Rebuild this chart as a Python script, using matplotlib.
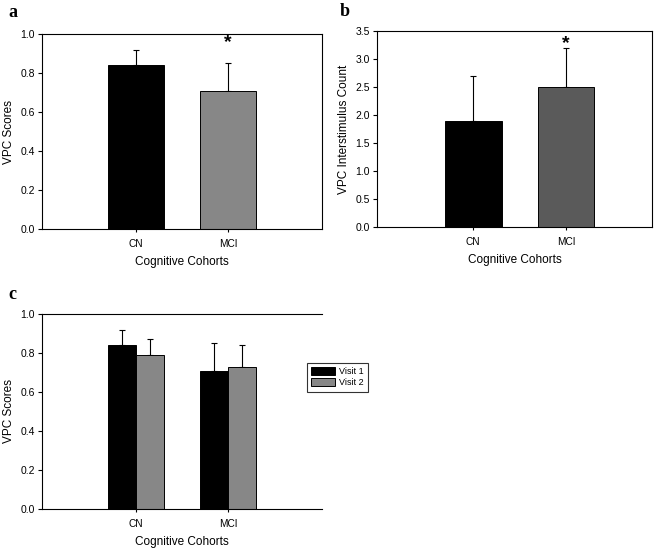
import matplotlib.pyplot as plt
import numpy as np

cohorts = ['CN', 'MCI']

# panel a: VPC scores
vpc_mean = [0.84, 0.71]
vpc_err = [0.08, 0.14]

# panel b: intersimulus count
isi_mean = [1.9, 2.5]
isi_err = [0.8, 0.7]

# panel c: visits
visit1_mean = [0.84, 0.71]
visit1_err = [0.08, 0.14]
visit2_mean = [0.79, 0.73]
visit2_err = [0.08, 0.11]

plt.rcParams['font.family'] = ['Liberation Sans', 'DejaVu Sans']


def style_axes(ax, ylim, yticks, fmt):
    ax.set_xlim(-1.02, 2.02)
    ax.set_ylim(*ylim)
    ax.set_yticks(yticks)
    ax.set_yticklabels([fmt.format(v) for v in yticks], fontsize=7.5)
    ax.set_xticks([0, 1])
    ax.set_xticklabels(cohorts, fontsize=7.3)
    ax.tick_params(axis='x', length=2, width=0.8, direction='out', pad=5)
    ax.tick_params(axis='y', length=3, width=0.8, direction='out', pad=2)
    ax.set_xlabel('Cognitive Cohorts', fontsize=8.5, labelpad=5)
    for s in ax.spines.values():
        s.set_linewidth(0.8)


def bars(ax, x, means, errs, color, width):
    ax.bar(x, means, width=width, color=color, edgecolor='black', linewidth=0.7, zorder=2)
    ax.errorbar(x, means, yerr=[np.zeros(len(errs)), errs], fmt='none',
                ecolor='black', elinewidth=0.8, capsize=2.5, capthick=0.8, zorder=1)


fig = plt.figure(figsize=(6.6, 5.48), dpi=100)

# a
ax_a = fig.add_axes([0.0636, 0.5821, 0.4242, 0.3558])
x = np.arange(len(cohorts))
bars(ax_a, x[:1], vpc_mean[:1], vpc_err[:1], 'black', 0.61)
bars(ax_a, x[1:], vpc_mean[1:], vpc_err[1:], '#878787', 0.61)
style_axes(ax_a, (0, 1.0), np.arange(0, 1.01, 0.2), '{:.1f}')
ax_a.set_ylabel('VPC Scores', fontsize=8.5, labelpad=4)
ax_a.text(1, 0.955, '*', ha='center', va='center', fontsize=14, fontweight='bold')

# b
ax_b = fig.add_axes([0.5712, 0.5858, 0.4167, 0.3577])
bars(ax_b, x[:1], isi_mean[:1], isi_err[:1], 'black', 0.61)
bars(ax_b, x[1:], isi_mean[1:], isi_err[1:], '#5a5a5a', 0.61)
style_axes(ax_b, (0, 3.5), np.arange(0, 3.51, 0.5), '{:.1f}')
ax_b.set_xlim(-1.04, 1.93)
ax_b.set_ylabel('VPC Interstimulus Count', fontsize=8.5, labelpad=4)
ax_b.text(1, 3.27, '*', ha='center', va='center', fontsize=14, fontweight='bold')

# c
ax_c = fig.add_axes([0.0636, 0.0712, 0.4242, 0.3558])
w = 0.30
bars(ax_c, x - w / 2, visit1_mean, visit1_err, 'black', w)
bars(ax_c, x + w / 2, visit2_mean, visit2_err, '#878787', w)
style_axes(ax_c, (0, 1.0), np.arange(0, 1.01, 0.2), '{:.1f}')
ax_c.spines['right'].set_visible(False)
ax_c.set_ylabel('VPC Scores', fontsize=8.5, labelpad=4)
leg = ax_c.legend([plt.Rectangle((0, 0), 1, 1, fc='black', ec='black', lw=0.7),
                   plt.Rectangle((0, 0), 1, 1, fc='#878787', ec='black', lw=0.7)],
                  ['Visit 1', 'Visit 2'], loc='upper left', bbox_to_anchor=(0.946, 0.75),
                  fontsize=6.5, frameon=True, fancybox=False, handlelength=2.6, handleheight=0.9,
                  borderpad=0.5, labelspacing=0.2, handletextpad=0.5, borderaxespad=0)
leg.get_frame().set_edgecolor('black')
leg.get_frame().set_linewidth(0.8)

# panel letters
for lx, ly, s in [(0.012, 0.992, 'a'), (0.515, 0.995, 'b'), (0.012, 0.478, 'c')]:
    fig.text(lx, ly, s, ha='left', va='top', fontsize=13, fontweight='bold',
             family=['Liberation Serif', 'DejaVu Serif'])

fig.savefig('out.png', dpi=100)
